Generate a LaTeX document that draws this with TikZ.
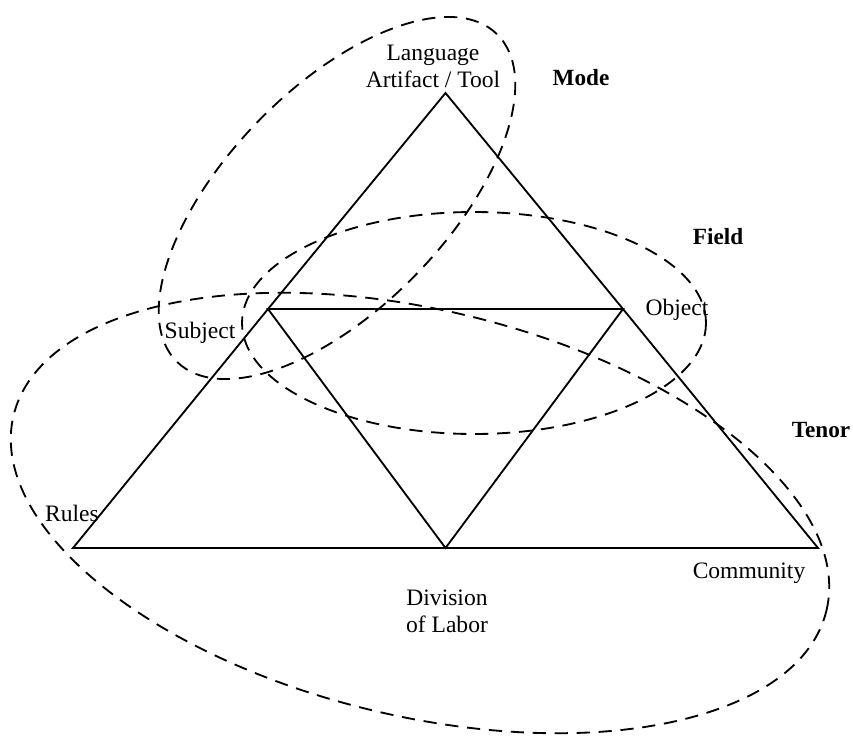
\documentclass[tikz,border=0pt]{standalone}
\usepackage{fontspec}
\setmainfont{Liberation Serif}
\usepackage{tikz}

\begin{document}
\begin{tikzpicture}[font=\fontsize{13.4}{15.4}\selectfont, line width=1.05pt,
    zone/.style={dash pattern=on 7.5pt off 5pt},
    lbl/.style={inner sep=0pt, align=center},
    reg/.style={inner sep=0pt, font=\fontsize{13.2}{15.4}\selectfont\bfseries}]
    \useasboundingbox (0,0) rectangle (17.06,-14.72);

    % corners of the triangle
    \coordinate (tool) at (8.91,-1.86);
    \coordinate (subject) at (5.36,-6.18);
    \coordinate (object) at (12.46,-6.18);
    \coordinate (rules) at (1.46,-10.96);
    \coordinate (labor) at (8.91,-10.96);
    \coordinate (community) at (16.36,-10.96);

    \draw (tool) -- (subject) -- (rules) -- (labor) -- (community) -- (object) -- cycle;
    \draw (subject) -- (object) -- (labor) -- cycle;

    % labels
    \node[lbl] (toollbl) at (8.66,-1.32) {Language\\Artifact / Tool};
    \node[lbl] (subjectlbl) at (4.00,-6.66) {Subject};
    \node[lbl] (objectlbl) at (13.54,-6.20) {Object};
    \node[lbl] (ruleslbl) at (1.44,-10.26) {Rules};
    \node[lbl] (communitylbl) at (14.98,-11.46) {Community};
    \node[lbl] (laborlbl) at (8.94,-12.22) {Division\\of Labor};

    \node[reg] (mode) at (11.62,-1.56) {Mode};
    \node[reg] (field) at (14.36,-4.74) {Field};
    \node[reg] (tenor) at (16.42,-8.60) {Tenor};

    % the three regions
    \draw[zone] (6.74,-3.96) ellipse [x radius=4.58, y radius=2.2, rotate=45.7];
    \draw[zone] (9.48,-6.46) ellipse [x radius=4.64, y radius=2.22];
    \draw[zone] (8.40,-10.26) ellipse [x radius=8.36, y radius=4.06, rotate=-13.5];
  \end{tikzpicture}
\end{document}
